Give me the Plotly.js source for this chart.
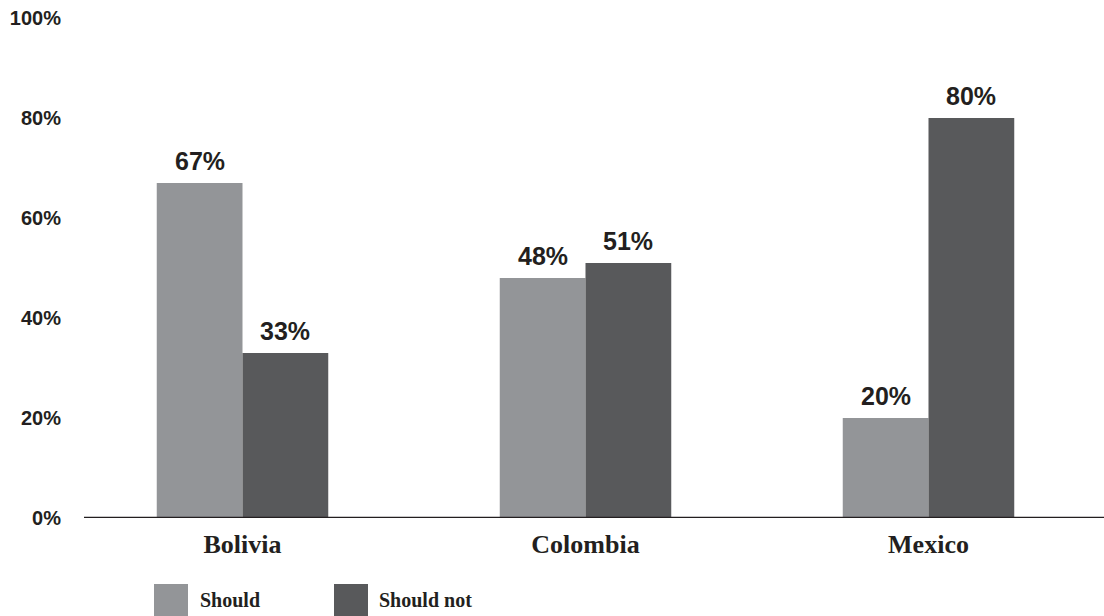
<!DOCTYPE html>
<html>
<head>
<meta charset="utf-8">
<script src="https://cdn.plot.ly/plotly-3.0.1.min.js"></script>
<style>
  html, body { margin: 0; padding: 0; background: #ffffff; }
  #chart { width: 1104px; height: 616px; }
</style>
</head>
<body>
<div id="chart"></div>
<script>
// Opinion by country: share answering "Should" vs "Should not"
const countries = ['Bolivia', 'Colombia', 'Mexico'];
const shouldValues = [67, 48, 20];
const shouldNotValues = [33, 51, 80];
const seriesNames = ['Should', 'Should not'];
const yTickValues = [0, 20, 40, 60, 80, 100];
const yTickLabels = ['0%', '20%', '40%', '60%', '80%', '100%'];

const colors = ['#939598', '#58595b'];
const ink = '#231f20';
const sansBold = { family: 'Arial, "Liberation Sans", sans-serif', weight: 'bold', color: ink };
const serifBold = { family: '"Times New Roman", "Liberation Serif", serif', weight: 'bold', color: ink };

const series = [shouldValues, shouldNotValues];

const traces = series.map((vals, i) => ({
  type: 'bar',
  name: seriesNames[i],
  x: countries,
  y: vals,
  marker: { color: colors[i], line: { width: 0 } },
  hoverinfo: 'skip',
  showlegend: false
}));

// Value labels above each bar (bars take a quarter of a category each)
const barWidth = 0.25;
const annotations = [];
series.forEach((vals, s) => {
  vals.forEach((v, c) => {
    annotations.push({
      x: c + (s === 0 ? -barWidth / 2 : barWidth / 2),
      y: v,
      xref: 'x', yref: 'y',
      text: v + '%',
      showarrow: false,
      yanchor: 'bottom',
      yshift: 6,
      font: Object.assign({ size: 25 }, sansBold)
    });
  });
});

// Hand-drawn legend below the axis
const shapes = [];
const pw = 1029, ph = 500, ml = 71, mt = 18;
const px = v => (v - ml) / pw;
const py = v => (mt + ph - v) / ph;
const legendItems = [
  { sx0: 154, sx1: 188, tx: 198 },
  { sx0: 334, sx1: 368, tx: 377 }
];
legendItems.forEach((it, i) => {
  shapes.push({
    type: 'rect', xref: 'paper', yref: 'paper',
    x0: px(it.sx0), x1: px(it.sx1), y0: py(584), y1: py(617),
    fillcolor: colors[i], line: { width: 0 }, layer: 'above'
  });
  annotations.push({
    xref: 'paper', yref: 'paper',
    x: px(it.tx), y: py(599.5),
    xanchor: 'left', yanchor: 'middle',
    text: seriesNames[i], showarrow: false,
    font: Object.assign({ size: 20 }, serifBold)
  });
});

// Baseline axis rule
shapes.push({
  type: 'line', xref: 'paper', yref: 'y',
  x0: px(84), x1: px(1104), y0: 0, y1: 0,
  line: { color: ink, width: 2.5 }, layer: 'above'
});

const layout = {
  width: 1104, height: 616,
  margin: { l: ml, r: 1104 - ml - pw, t: mt, b: 616 - mt - ph, pad: 0 },
  paper_bgcolor: '#ffffff', plot_bgcolor: '#ffffff',
  barmode: 'group', bargap: 0.5, bargroupgap: 0,
  xaxis: {
    type: 'category',
    showline: false, showgrid: false, zeroline: false, ticks: '',
    tickfont: Object.assign({ size: 26 }, serifBold),
    ticklabelstandoff: 8,
    fixedrange: true
  },
  yaxis: {
    range: [0, 100],
    tickvals: yTickValues, ticktext: yTickLabels,
    showline: false, showgrid: false, zeroline: false, ticks: '',
    tickfont: Object.assign({ size: 20 }, sansBold),
    ticklabelstandoff: 9,
    fixedrange: true
  },
  shapes: shapes,
  annotations: annotations,
  showlegend: false
};

Plotly.newPlot('chart', traces, layout, { displayModeBar: false, staticPlot: true });
</script>
</body>
</html>
